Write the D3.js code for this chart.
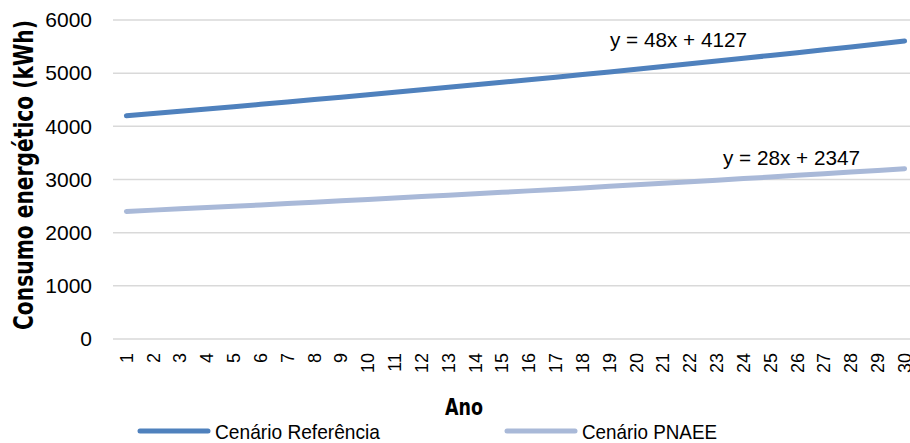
<!DOCTYPE html>
<html><head><meta charset="utf-8">
<script src="https://cdn.jsdelivr.net/npm/d3@7"></script>
<style>
body{margin:0;background:#fff;}
svg{display:block;font-family:"Liberation Sans",Arial,sans-serif;}
</style></head>
<body>
<svg id="c" width="910" height="443"></svg>
<script>
const years = d3.range(1, 31).map(String);
const yTicks = [0, 1000, 2000, 3000, 4000, 5000, 6000];
const refValues = [4200,4242,4284,4327,4370,4414,4458,4503,4548,4593,4639,4686,4733,4780,4828,4876,4925,4974,5024,5074,5125,5176,5228,5280,5333,5386,5440,5494,5549,5605];
const pnaeeValues = [2400,2424,2448,2473,2497,2522,2548,2573,2599,2625,2651,2678,2704,2731,2759,2786,2814,2842,2871,2899,2928,2958,2987,3017,3047,3078,3108,3140,3171,3203];
const seriesNames = ["Cenário Referência", "Cenário PNAEE"];
const seriesColors = ["#4F81BD", "#A9B9D8"];
const equations = ["y = 48x + 4127", "y = 28x + 2347"];

(function () {
const svg = d3.select("#c");
const mLeft = 113, mRight = 918, mTop = 20, mBottom = 339;
const x = d3.scaleBand().domain(years).range([mLeft, mRight]);
const y = d3.scaleLinear().domain([0, 6000]).range([mBottom, mTop]);
const boldFont = "'DejaVu Sans Condensed','DejaVu Sans',sans-serif";

svg.append("g").selectAll("line").data(yTicks).join("line")
  .attr("x1", mLeft).attr("x2", 910)
  .attr("y1", d => y(d)).attr("y2", d => y(d))
  .attr("stroke", "#D9D9D9").attr("stroke-width", 1.5);

const yAxis = d3.axisLeft(y).tickValues(yTicks).tickFormat(d3.format("d")).tickSize(0).tickPadding(19);
const gy = svg.append("g").attr("transform", `translate(${mLeft - 2},0)`).call(yAxis);
gy.select(".domain").remove();
gy.selectAll("text").attr("font-size", 21).attr("fill", "#000")
  .attr("font-family", "'Liberation Sans',sans-serif");

const xAxis = d3.axisBottom(x).tickSize(0).tickPadding(0);
const gx = svg.append("g").attr("transform", `translate(0,${mBottom})`).call(xAxis);
gx.select(".domain").remove();
gx.selectAll("text")
  .attr("font-size", 18).attr("fill", "#000")
  .attr("font-family", "'Liberation Sans',sans-serif")
  .attr("transform", "rotate(-90)")
  .attr("text-anchor", "end")
  .attr("dy", "0.35em")
  .attr("x", -14).attr("y", 0);

const data = [refValues, pnaeeValues];
const line = d3.line().x((d, i) => x(years[i]) + x.bandwidth() / 2).y(d => y(d));
svg.append("g").selectAll("path").data(data).join("path")
  .attr("d", line).attr("fill", "none")
  .attr("stroke", (d, i) => seriesColors[i]).attr("stroke-width", 5)
  .attr("stroke-linecap", "round").attr("stroke-linejoin", "round");

svg.append("text").attr("x", 610).attr("y", 47).text(equations[0])
  .attr("font-size", 21).attr("fill", "#000")
  .attr("textLength", 137).attr("lengthAdjust", "spacingAndGlyphs");
svg.append("text").attr("x", 723).attr("y", 165).text(equations[1])
  .attr("font-size", 21).attr("fill", "#000")
  .attr("textLength", 137).attr("lengthAdjust", "spacingAndGlyphs");

svg.append("text").attr("transform", `translate(33,175) rotate(-90)`)
  .attr("text-anchor", "middle").attr("font-weight", "bold").attr("font-size", 27)
  .attr("font-family", boldFont)
  .attr("textLength", 310).attr("lengthAdjust", "spacingAndGlyphs")
  .text("Consumo energético (kWh)");
svg.append("text").attr("x", 445).attr("y", 415)
  .attr("font-weight", "bold").attr("font-size", 23)
  .attr("font-family", boldFont)
  .attr("textLength", 38).attr("lengthAdjust", "spacingAndGlyphs")
  .text("Ano");

const legX = [138, 505];
const legTextW = [165, 135];
const lg = svg.append("g").selectAll("g").data(seriesNames).join("g")
  .attr("transform", (d, i) => `translate(${legX[i]},431)`);
lg.append("line").attr("x1", 2).attr("x2", 70).attr("y1", 0).attr("y2", 0)
  .attr("stroke", (d, i) => seriesColors[i]).attr("stroke-width", 5).attr("stroke-linecap", "round");
lg.append("text").attr("x", (d, i) => i === 0 ? 77 : 77).attr("y", 8).attr("font-size", 21)
  .attr("textLength", (d, i) => legTextW[i]).attr("lengthAdjust", "spacingAndGlyphs")
  .text(d => d);
})();
</script>
</body></html>
